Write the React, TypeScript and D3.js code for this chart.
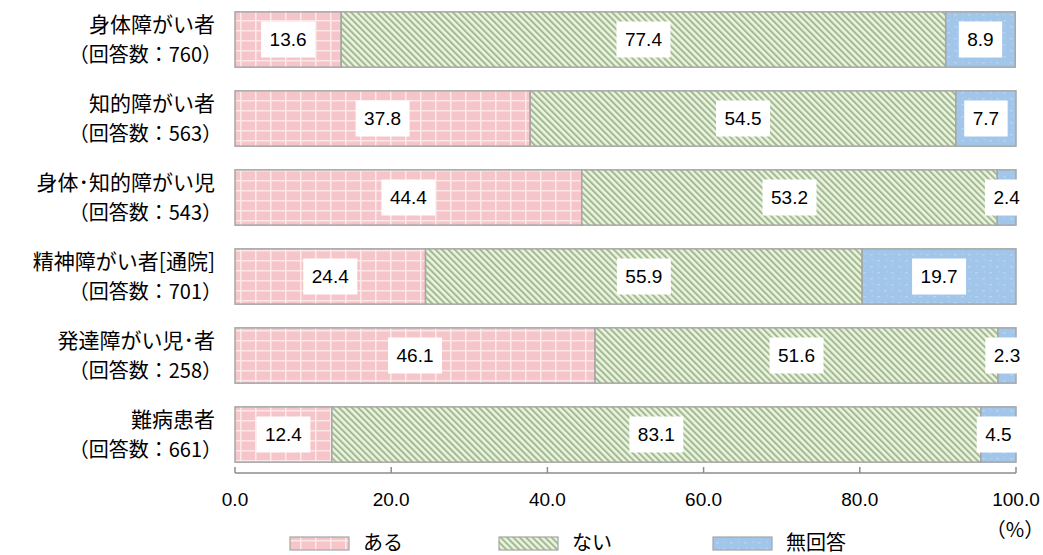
import React from "react";
import * as d3 from "d3";

const categories = ["身体障がい者", "知的障がい者", "身体･知的障がい児", "精神障がい者[通院]", "発達障がい児･者", "難病患者"];
const counts = ["760", "563", "543", "701", "258", "661"];
const aru = [13.6, 37.8, 44.4, 24.4, 46.1, 12.4];
const nai = [77.4, 54.5, 53.2, 55.9, 51.6, 83.1];
const mukaitou = [8.9, 7.7, 2.4, 19.7, 2.3, 4.5];
const seriesNames = ["ある", "ない", "無回答"];
const ticks = [0, 20, 40, 60, 80, 100];

const W = 1043, H = 555;
const FONT = "'Noto Sans CJK JP', 'Noto Sans', sans-serif";
const NUMFONT = "'Liberation Sans', Arial, sans-serif";

export default function App() {
  const x = d3.scaleLinear().domain([0, 100]).range([235, 1016]);
  const y = d3.scaleBand<number>().domain(d3.range(categories.length)).range([0, 474]).paddingInner(0.3).paddingOuter(0.15);
  const series = [aru, nai, mukaitou];
  const fills = ["url(#pPink)", "url(#pGreen)", "url(#pBlue)"];
  const axisY = 473;

  const rows = categories.map((c, i) => {
    let acc = 0;
    const segs = series.map((s, k) => {
      const v = s[i];
      const x0 = acc;
      acc += v;
      return { k, v, x0, x1: acc };
    });
    return { c, i, segs };
  });

  return (
    <svg width={W} height={H} style={{ position: "absolute", left: 0, top: 0, background: "#fff" }}>
      <defs>
        <pattern id="pPink" patternUnits="userSpaceOnUse" width="15" height="10">
          <rect width="15" height="10" fill="#f5c5c9" />
          <rect x="0" y="0" width="15" height="1.5" fill="#fce6e8" />
          <rect x="0" y="0" width="1.5" height="10" fill="#fdebec" />
        </pattern>
        <pattern id="pGreen" patternUnits="userSpaceOnUse" width="4.5" height="4.5" patternTransform="rotate(-45)">
          <rect width="4.5" height="4.5" fill="#edf4d8" />
          <rect x="0" y="0" width="2" height="4.5" fill="#9fb99a" />
        </pattern>
        <pattern id="pBlue" patternUnits="userSpaceOnUse" width="14" height="12">
          <rect width="14" height="12" fill="#a2c6ea" />
          <rect x="2" y="2" width="3" height="1.5" fill="#b5d2f0" />
          <rect x="9" y="8" width="3" height="1.5" fill="#b5d2f0" />
          <rect x="10" y="1" width="1.5" height="2" fill="#aecdee" />
          <rect x="4" y="7" width="1.5" height="2" fill="#aecdee" />
        </pattern>
      </defs>

      {rows.map((r) => {
        const top = y(r.i)!;
        const bh = y.bandwidth();
        const cy = top + bh / 2;
        return (
          <g key={r.i}>
            {r.segs.map((s) => (
              <rect key={s.k} x={x(s.x0)} y={top} width={x(s.x1) - x(s.x0)} height={bh}
                fill={fills[s.k]} stroke="#a6a6a6" strokeWidth={1.5} />
            ))}
            {r.segs.map((s) => {
              const label = s.v.toFixed(1);
              const cx = (x(s.x0) + x(s.x1)) / 2;
              const tw = label.length * 10.57 - 5.3;
              const bw = tw + 17;
              return (
                <g key={"l" + s.k}>
                  <rect x={cx - bw / 2} y={cy - 18} width={bw} height={36} fill="#fff" />
                  <text x={cx} y={cy} dy="0.36em" textAnchor="middle" fontFamily={NUMFONT} fontSize={19} fill="#000">{label}</text>
                </g>
              );
            })}
            <text x={215} y={cy - 15} dy="0.36em" textAnchor="end" fontFamily={FONT} fontSize={21} fill="#000">{r.c}</text>
            <text x={222} y={cy + 15} dy="0.36em" textAnchor="end" fontFamily={FONT} fontSize={20} fill="#000">{"（回答数：" + counts[r.i] + "）"}</text>
          </g>
        );
      })}

      <line x1={x(0)} x2={x(100)} y1={axisY} y2={axisY} stroke="#8c8c8c" strokeWidth={1.5} />
      {ticks.map((t) => (
        <g key={t}>
          <line x1={x(t)} x2={x(t)} y1={axisY - 6} y2={axisY} stroke="#8c8c8c" strokeWidth={1.5} />
          <text x={x(t)} y={499} dy="0.36em" textAnchor="middle" fontFamily={NUMFONT} fontSize={19} fill="#000">{t.toFixed(1)}</text>
        </g>
      ))}
      <text x={1015} y={530} dy="0.36em" textAnchor="middle" fontFamily={FONT} fontSize={20} fill="#000">（%）</text>

      {seriesNames.map((n, k) => {
        const sx = [290, 499, 713][k];
        return (
          <g key={n}>
            <rect x={sx} y={537} width={59} height={13} fill={fills[k]} stroke="#a6a6a6" strokeWidth={1.2} />
            <text x={sx + 73} y={543} dy="0.36em" fontFamily={FONT} fontSize={20} fill="#000">{n}</text>
          </g>
        );
      })}
    </svg>
  );
}
